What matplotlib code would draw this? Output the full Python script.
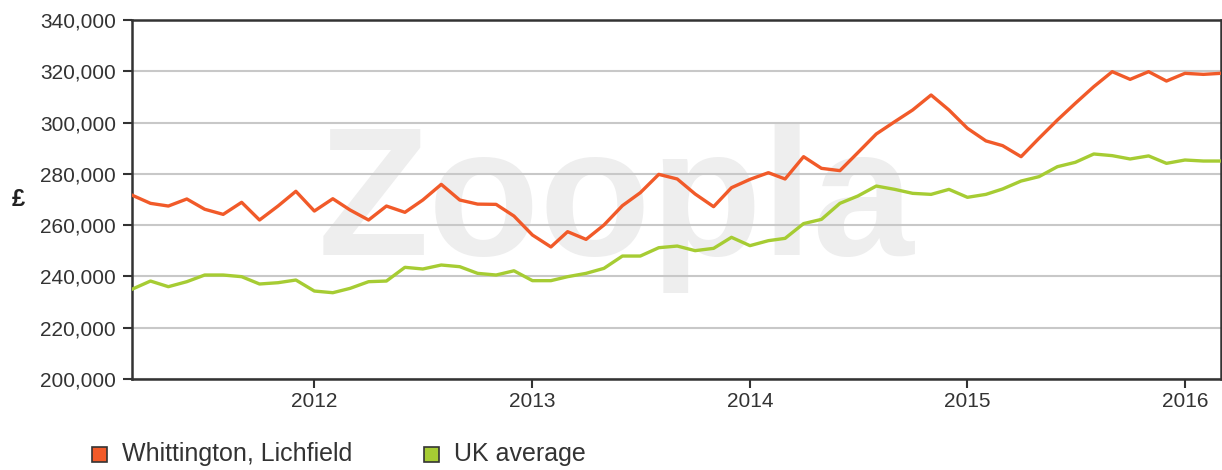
import matplotlib
matplotlib.use("Agg")
import matplotlib.pyplot as plt
import matplotlib.dates as mdates
from matplotlib.patches import Rectangle
from matplotlib.ticker import FuncFormatter
import pandas as pd

plt.rcParams['font.family'] = ['Liberation Sans', 'DejaVu Sans']

months = pd.date_range('2011-03-01', periods=61, freq='MS')

whittington = [
    271700, 268500, 267450, 270200, 266200, 264200, 268900, 262000, 267450, 273200,
    265500, 270300, 265900, 262000, 267450, 265000, 269800, 275900, 269800, 268200,
    268100, 263550, 256150, 251500, 257450, 254450, 260050, 267600, 272650, 279800,
    278000, 272150, 267200, 274600, 277850, 280450, 278000, 286700, 282150, 281250,
    288250, 295550, 300350, 304900, 310750, 304900, 297750, 292850, 291000, 286700,
    293850, 301000, 307500, 314000, 319850, 316850, 319850, 316200, 319200, 318800,
    319200,
]
uk_average = [
    235000, 238200, 236000, 237950, 240550, 240550, 239900, 237050, 237550, 238600,
    234300, 233650, 235350, 237950, 238200, 243550, 242900, 244450, 243800, 241200,
    240550, 242200, 238350, 238350, 239900, 241200, 243150, 247950, 247950, 251200,
    251850, 250050, 250950, 255250, 252000, 253950, 254850, 260600, 262250, 268500,
    271350, 275250, 273950, 272400, 272000, 273950, 270850, 272000, 274100, 277200,
    278900, 282800, 284500, 287750, 287100, 285800, 287000, 284100, 285400, 285000,
    285000,
]
series_names = ['Whittington, Lichfield', 'UK average']
series_colors = ['#f15a29', '#a6cc33']

W, H = 1222, 470
fig = plt.figure(figsize=(W / 100, H / 100), dpi=100)
ax = fig.add_axes([132 / W, 1 - 379 / H, (1220.7 - 132) / W, (379 - 20) / H])

# watermark
ax.text(318 / W, 1 - 255 / H, 'Zoopla', transform=fig.transFigure, fontsize=131,
        fontweight='bold', color='#eeeeee', ha='left', va='baseline', zorder=0.1)

ax.plot(months, whittington, color=series_colors[0], lw=2.4, zorder=3)
ax.plot(months, uk_average, color=series_colors[1], lw=2.4, zorder=3)

ax.set_xlim(months[0], months[-1])
ax.set_ylim(200000, 340000)
ax.set_yticks(range(200000, 340001, 20000))
ax.yaxis.set_major_formatter(FuncFormatter(lambda v, p: f'{v:,.0f}'))
ax.xaxis.set_major_locator(mdates.YearLocator())
ax.xaxis.set_major_formatter(mdates.DateFormatter('%Y'))

ax.set_axisbelow(True)
ax.grid(axis='y', color='#c8c8c8', lw=1.5)
for s in ax.spines.values():
    s.set_color('#333333')
    s.set_linewidth(1.8)
ax.tick_params(axis='both', colors='#333333', labelcolor='#333333', length=6.5,
               width=1.5, labelsize=15)
ax.tick_params(axis='y', pad=5)
ax.tick_params(axis='x', pad=3)

fig.text(18 / W, 1 - 199 / H, '£', ha='center', va='center', fontsize=17,
         fontweight='bold', color='#222222')

# legend
leg_x = [92, 424]
for i in range(2):
    fig.patches.append(Rectangle((leg_x[i] / W, 1 - 462 / H), 15 / W, 15 / H,
                                 transform=fig.transFigure, facecolor=series_colors[i],
                                 edgecolor='#333333', lw=1.2))
    fig.text((leg_x[i] + 30) / W, 1 - 454 / H, series_names[i], ha='left',
             va='center', fontsize=18, color='#333333')

fig.savefig('out.png', dpi=100)
